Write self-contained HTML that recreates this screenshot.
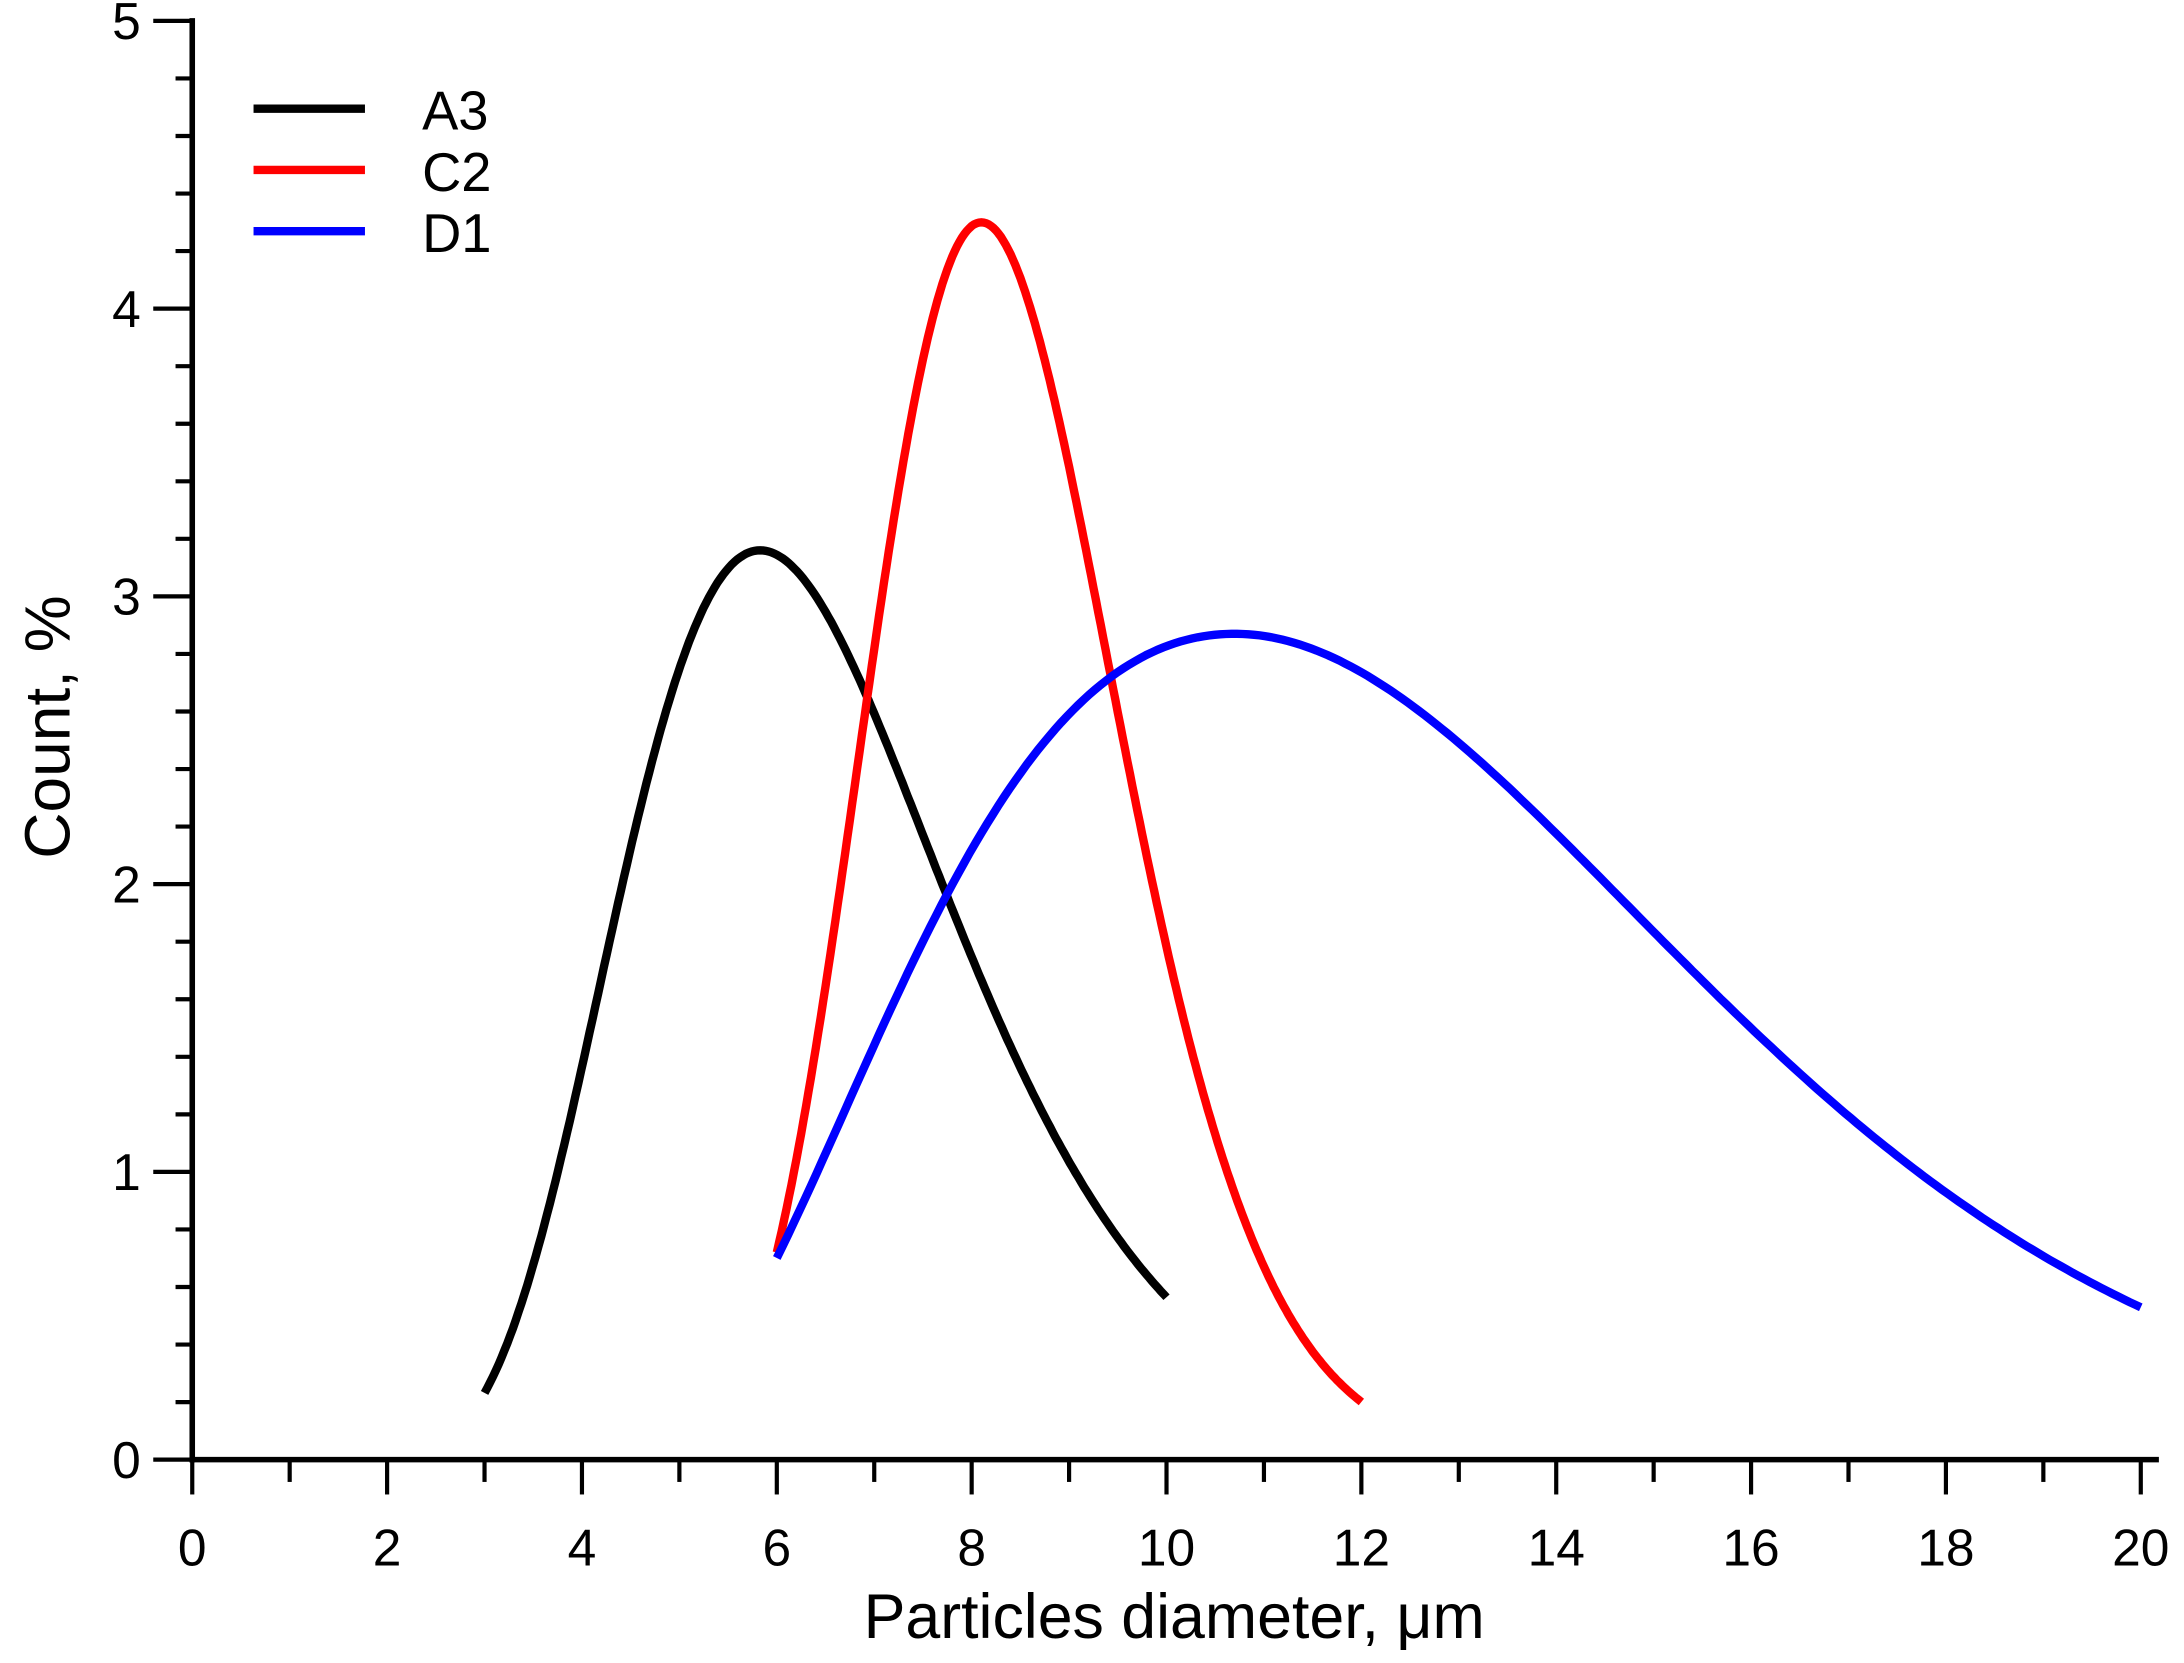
<!DOCTYPE html>
<html><head><meta charset="utf-8"><style>
html,body{margin:0;padding:0;background:#fff;}
svg{display:block;}
text{font-family:"Liberation Sans",sans-serif;fill:#000;}
</style></head><body>
<svg id="s" width="2184" height="1663" viewBox="0 0 1568 1194" xmlns="http://www.w3.org/2000/svg">
<g id="ticks" stroke="#000" stroke-width="3"></g>
<line x1="138" y1="13" x2="138" y2="1050" stroke="#000" stroke-width="4"/>
<line x1="136" y1="1048" x2="1550" y2="1048" stroke="#000" stroke-width="4"/>
<g id="lbl" font-size="37"></g>
<text x="843" y="1176" font-size="45" text-anchor="middle">Particles diameter, μm</text>
<text transform="translate(50,522) rotate(-90)" font-size="46" text-anchor="middle">Count, %</text>
<path id="a3" fill="none" stroke="#000" stroke-width="6"/>
<path id="c2" fill="none" stroke="#ff0000" stroke-width="6"/>
<path id="d1" fill="none" stroke="#0000ff" stroke-width="6"/>
<line x1="182" y1="78" x2="262" y2="78" stroke="#000" stroke-width="6"/>
<line x1="182" y1="122" x2="262" y2="122" stroke="#ff0000" stroke-width="6"/>
<line x1="182" y1="166" x2="262" y2="166" stroke="#0000ff" stroke-width="6"/>
<text x="303" y="93" font-size="39">A3</text>
<text x="303" y="137" font-size="39">C2</text>
<text x="303" y="181" font-size="39">D1</text>
</svg>
<script>
var X=function(v){return 138+v*69.95;},Y=function(v){return 1048-v*206.6;};
var t=document.getElementById('ticks'),l=document.getElementById('lbl'),ns='http://www.w3.org/2000/svg';
function ln(x1,y1,x2,y2){var e=document.createElementNS(ns,'line');e.setAttribute('x1',x1);e.setAttribute('y1',y1);e.setAttribute('x2',x2);e.setAttribute('y2',y2);t.appendChild(e);}
function tx(x,y,s,a){var e=document.createElementNS(ns,'text');e.setAttribute('x',x);e.setAttribute('y',y);e.setAttribute('text-anchor',a);e.textContent=s;l.appendChild(e);}
for(var i=0;i<=25;i++){var y=Y(i*0.2);if(i%5==0){ln(110,y,138,y);tx(101,y+13,String(i/5),'end');}else ln(126,y,138,y);}
for(var i=0;i<=20;i++){var x=X(i);if(i%2==0){ln(x,1048,x,1073);tx(x,1124,String(i),'middle');}else ln(x,1048,x,1064);}
function draw(id,f,a,b){var d='';for(var k=0;k<=240;k++){var x=a+(b-a)*k/240;d+=(k?'L':'M')+X(x).toFixed(1)+' '+Y(f(x)).toFixed(1);}document.getElementById(id).setAttribute('d',d);}
function logn(A,pk,s2){var mu=Math.log(pk);return function(x){return A*Math.exp(-Math.pow(Math.log(x)-mu,2)/(2*s2));};}
draw('a3',logn(3.16,5.83,0.0845),3,10);
draw('c2',logn(4.30,8.1,0.0252),6,12);
draw('d1',function(x){var d=x-10.7;if(d>=0)return 2.87*Math.exp(-d*d/(32.82+1.973*d));var a=-d;return 2.87*Math.exp(-a*a/(35.41-4.20*a));},6,20);
</script>
</body></html>
